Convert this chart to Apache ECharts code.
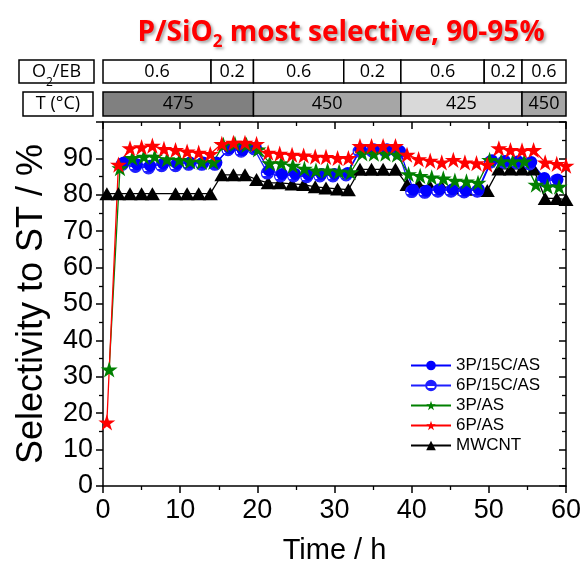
<!DOCTYPE html>
<html><head><meta charset="utf-8">
<script src="https://cdn.jsdelivr.net/npm/echarts@6/dist/echarts.min.js"></script>
<style>html,body{margin:0;padding:0;background:#fff}#c{width:585px;height:570px}</style>
</head><body><div id="c"></div>
<script>
// ---- data ----
const timeRB = [0.5,2.0,3.5,5.0,6.4,7.9,9.4,10.9,12.4,13.9,15.4,16.9,18.4,19.9,21.4,22.9,24.5,26.0,27.5,28.9,30.4,31.8,33.3,34.8,36.3,37.9,39.4,40.9,42.4,43.9,45.4,46.9,48.4,49.8,51.3,52.8,54.3,55.8,57.3,58.8,60.0];
const val6PAS = [17.5,88.3,92.8,93.1,93.5,92.6,92.3,91.9,91.6,91.2,94.0,94.3,94.3,94.0,91.6,91.3,91.0,90.8,90.5,90.4,90.1,90.1,93.4,93.4,93.4,93.4,91.0,89.8,89.4,88.9,89.6,88.9,88.7,88.3,92.8,92.3,92.2,92.3,88.9,88.5,88.0];
const valMWCNT = [80.3,80.3,80.3,80.3,80.3,null,80.3,80.3,80.3,80.3,85.5,85.5,85.5,84.2,83.3,83.3,83.0,82.8,82.2,81.9,81.6,81.4,87.0,87.0,87.0,87.0,82.8,82.8,82.2,82.2,81.9,81.6,81.6,81.2,87.1,87.1,87.1,87.1,79.0,79.0,78.7];
const time3PAS = [0.8,2.2,3.8,5.3,6.7,8.3,9.9,11.3,12.8,14.3,15.6,17.1,18.6,20.1,21.6,23.1,24.6,26.1,27.6,29.1,30.6,32.1,33.6,35.1,36.6,38.1,39.6,41.1,42.6,44.1,45.6,47.1,48.6,50.1,51.6,53.1,54.6,56.1,57.6,59.1];
const val3PAS = [32.0,87.3,90.1,90.5,90.5,89.8,89.6,89.2,89.0,89.0,93.7,94.0,93.7,92.5,88.7,88.7,88.0,87.2,86.7,86.7,86.4,86.2,91.4,91.3,91.3,91.0,85.7,85.2,84.8,84.5,83.9,83.7,83.3,89.6,89.2,89.2,89.2,82.8,82.3,82.2];
const time3P15C = [2.7,4.4,6.1,7.8,9.6,11.3,13.0,14.7,16.4,18.1,19.8,21.5,23.2,24.9,26.6,28.3,30.0,31.7,33.4,35.1,36.8,38.5,40.2,41.9,43.6,45.3,47.0,48.7,50.4,52.1,53.8,55.5,57.2,58.9];
const val3P15C = [88.9,88.4,88.0,88.5,88.5,88.9,88.9,88.9,92.8,92.3,93.0,86.7,85.7,85.7,85.5,85.7,85.7,86.0,92.5,92.5,92.5,92.0,81.4,81.1,81.5,81.5,81.2,81.5,89.5,89.3,89.2,89.0,84.6,84.2];
const time6P15C = [2.5,4.2,5.9,7.6,9.4,11.1,12.8,14.5,16.2,17.9,19.6,21.3,23.0,24.7,26.4,28.1,29.8,31.5,33.2,34.9,36.6,38.3,40.0,41.7,43.4,45.1,46.8,48.5,50.2,51.9,53.6,55.3,57.0,58.7];
const val6P15C = [88.4,87.8,87.4,88.0,88.0,88.4,88.4,88.4,92.4,92.0,92.6,86.0,85.2,85.2,85.0,85.2,85.2,85.5,92.0,92.0,92.0,91.5,80.9,80.7,81.0,81.0,80.8,81.0,89.0,89.0,88.8,88.5,84.0,83.8];
const yTicks = [0,10,20,30,40,50,60,70,80,90];
const o2Segments = [[0,14,'0.6'],[14,19.5,'0.2'],[19.5,31.2,'0.6'],[31.2,38.6,'0.2'],[38.6,49.4,'0.6'],[49.4,54.3,'0.2'],[54.3,60,'0.6']];
const tSegments = [[0,19.5,'475','#808080'],[19.5,38.6,'450','#a6a6a6'],[38.6,54.3,'425','#d9d9d9'],[54.3,60,'450','#a6a6a6']];

const zip = (t, v) => t.map((x, i) => [x, v[i]]);
const STAR = 'path://M50,0 L61.2,34.5 L97.6,34.5 L68.2,55.9 L79.4,90.5 L50,69.1 L20.6,90.5 L31.8,55.9 L2.4,34.5 L38.8,34.5 Z';
const halfFill = new echarts.graphic.LinearGradient(0,0,0,1,[
  {offset:0,color:'#1f1fff'},{offset:0.52,color:'#1f1fff'},{offset:0.52,color:'#ffffff'},{offset:0.72,color:'#ffffff'},{offset:0.72,color:'#1f1fff'},{offset:1,color:'#1f1fff'}]);

const chart = echarts.init(document.getElementById('c'));
const axisFont = 'Liberation Sans, Arial, sans-serif';
const titleFont = 'Open Sans, sans-serif';
const shadow = {textShadowColor:'rgba(0,0,0,0.35)', textShadowBlur:3, textShadowOffsetX:2, textShadowOffsetY:2};
const common = {type:'line', connectNulls:true, z:3};
chart.setOption({
  animation:false,
  title:{text:'P/SiO{s|2} most selective, 90-95%', left:336, top:14, textAlign:'center',
    textStyle:Object.assign({fontFamily:titleFont, fontWeight:'bold', fontSize:28, color:'#ff0000',
      rich:{s:Object.assign({fontFamily:titleFont, fontWeight:'bold', fontSize:17, color:'#ff0000', verticalAlign:'bottom', padding:[0,0,-4,0]}, shadow)}}, shadow)},
  grid:{left:103, right:19, top:122, bottom:82},
  legend:{orient:'vertical', left:405, top:352, itemWidth:40, itemHeight:12, itemGap:3,
    textStyle:{fontFamily:axisFont, fontSize:17, color:'#000'},
    data:['3P/15C/AS','6P/15C/AS','3P/AS','6P/AS','MWCNT']},
  xAxis:[
    {type:'value', min:0, max:60, interval:10, position:'bottom',
     name:'Time / h', nameLocation:'middle', nameGap:50, nameTextStyle:{fontFamily:axisFont, fontSize:29, color:'#000'},
     axisLine:{onZero:false, lineStyle:{color:'#000', width:1.5}},
     axisTick:{inside:false, length:7, lineStyle:{color:'#000', width:1.5}},
     minorTick:{show:true, splitNumber:2, length:4, lineStyle:{color:'#000', width:1.3}},
     axisLabel:{fontFamily:axisFont, fontSize:27, color:'#000', margin:11},
     splitLine:{show:false}},
    {type:'value', min:0, max:60, interval:10, position:'top',
     axisLine:{onZero:false, lineStyle:{color:'#000', width:1.5}},
     axisTick:{inside:true, length:7, lineStyle:{color:'#000', width:1.5}},
     minorTick:{show:true, splitNumber:2, length:4, lineStyle:{color:'#000', width:1.3}},
     axisLabel:{show:false}, splitLine:{show:false}}
  ],
  yAxis:[
    {type:'value', min:0, max:100, interval:10, position:'left',
     name:'Selectivity to ST / %', nameLocation:'middle', nameGap:53, nameRotate:90,
     nameTextStyle:{fontFamily:axisFont, fontSize:36, color:'#000'},
     axisLine:{onZero:false, lineStyle:{color:'#000', width:1.5}},
     axisTick:{inside:false, length:7, lineStyle:{color:'#000', width:1.5}},
     minorTick:{show:true, splitNumber:2, length:4, lineStyle:{color:'#000', width:1.3}},
     axisLabel:{fontFamily:axisFont, fontSize:27, color:'#000', margin:10,
       formatter: v => yTicks.includes(v) ? String(v) : ''},
     splitLine:{show:false}},
    {type:'value', min:0, max:100, interval:10, position:'right',
     axisLine:{onZero:false, lineStyle:{color:'#000', width:1.5}},
     axisTick:{inside:true, length:7, lineStyle:{color:'#000', width:1.5}},
     minorTick:{show:true, splitNumber:2, length:4, lineStyle:{color:'#000', width:1.3}},
     axisLabel:{show:false}, splitLine:{show:false}}
  ],
  series:[
    Object.assign({}, common, {name:'MWCNT', data:zip(timeRB, valMWCNT), symbol:'triangle', symbolSize:[15,13],
      itemStyle:{color:'#000'}, lineStyle:{color:'#000', width:1.3}}),
    Object.assign({}, common, {name:'6P/15C/AS', data:zip(time6P15C, val6P15C), symbol:'circle', symbolSize:12,
      itemStyle:{color:halfFill, borderColor:'#1f1fff', borderWidth:1.2}, lineStyle:{color:'#1f1fff', width:1.3}}),
    Object.assign({}, common, {name:'3P/15C/AS', data:zip(time3P15C, val3P15C), symbol:'circle', symbolSize:12,
      itemStyle:{color:'#0000ff'}, lineStyle:{color:'#0000ff', width:1.3}}),
    Object.assign({}, common, {name:'3P/AS', data:zip(time3PAS, val3PAS), symbol:STAR, symbolSize:17, symbolKeepAspect:true,
      itemStyle:{color:'#008000'}, lineStyle:{color:'#008000', width:1.3}}),
    Object.assign({}, common, {name:'6P/AS', data:zip(timeRB, val6PAS), symbol:STAR, symbolSize:17, symbolKeepAspect:true,
      itemStyle:{color:'#ff0000'}, lineStyle:{color:'#ff0000', width:1.3}})
  ]
});

// ---- condition table above the plot ----
const px = t => chart.convertToPixel({xAxisIndex:0}, t);
const tblFont = 'Open Sans, sans-serif';
const g = [];
function cell(x0, x1, y0, y1, fill, label, rich) {
  g.push({type:'rect', shape:{x:x0, y:y0, width:x1-x0, height:y1-y0}, style:{fill:fill, stroke:'#000', lineWidth:1.5}});
  g.push({type:'text', x:(x0+x1)/2, y:(y0+y1)/2, style:{text:label, fill:'#000', font:'18px ' + tblFont, align:'center', verticalAlign:'middle', rich:rich}});
}
const subRich = {s:{font:'12px ' + tblFont, fill:'#000', verticalAlign:'bottom', padding:[0,0,-8,0]}};
cell(19, 94, 60, 83, '#fff', 'O{s|2}/EB', subRich);
cell(23, 93, 92, 116, '#fff', 'T (°C)');
o2Segments.forEach(s => cell(px(s[0]), px(s[1]), 60, 83, '#fff', s[2]));
tSegments.forEach(s => cell(px(s[0]), px(s[1]), 92, 116, s[3], s[2]));
chart.setOption({graphic:g});
</script></body></html>
